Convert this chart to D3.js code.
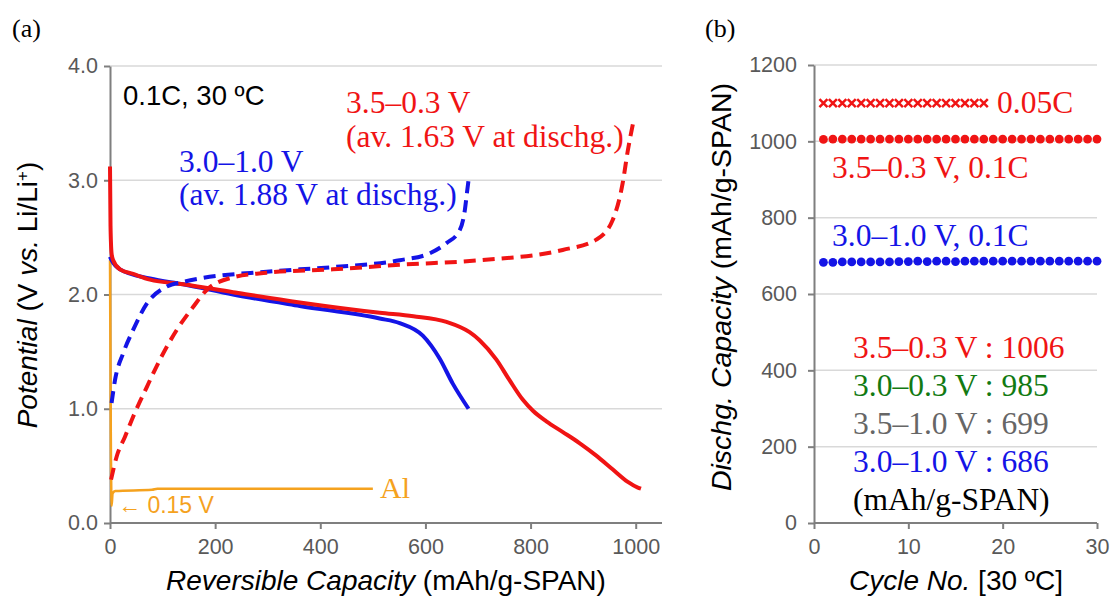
<!DOCTYPE html>
<html lang="en">
<head>
  <meta charset="UTF-8">
  <title>SPAN charge-discharge</title>
  <script src="https://d3js.org/d3.v7.min.js"></script>
  <style>
    body { margin: 0; background: #fff; }
    .serif { font-family: "Liberation Serif", "Times New Roman", serif; }
    .sans { font-family: "Liberation Sans", Arial, sans-serif; }
  </style>
</head>
<body>
  <div id="chart"></div>

  <script>
    // (a) capacity [mAh/g] vs potential [V]
    const redDis = [[0,3.12],[1,2.6],[3,2.36],[6,2.30],[19,2.22],[44,2.18],[76,2.13],[139,2.09],[234,2.02],[361,1.93],[513,1.84],[577,1.81],[640,1.76],[684,1.67],[703,1.60],[735,1.43],[760,1.25],[785,1.08],[805,0.98],[830,0.89],[860,0.80],[893,0.70],[925,0.59],[956,0.47],[985,0.36],[1004,0.31],[1010,0.30]];
    const redChg = [[2,0.38],[12.6,0.58],[28.5,0.755],[44,0.93],[70,1.19],[95,1.43],[127,1.69],[158,1.89],[184,2.04],[234,2.15],[298,2.19],[424,2.22],[551,2.26],[703,2.30],[861,2.39],[925,2.48],[956,2.65],[975,2.97],[985,3.26],[995,3.50]];
    const blueDis = [[0,2.33],[3,2.30],[19,2.22],[76,2.14],[139,2.09],[234,2.00],[361,1.90],[513,1.79],[551,1.75],[595,1.64],[627,1.44],[652,1.22],[682,1.00]];
    const blueChg = [[3,1.05],[9.5,1.25],[25,1.485],[44,1.69],[70,1.92],[108,2.07],[139,2.11],[171,2.14],[298,2.20],[424,2.24],[551,2.30],[608,2.36],[640,2.45],[665,2.56],[675,2.74],[679,2.89],[682,3.00]];
    const alCurve = [[0,2.3],[0.5,1.8],[1,1.37],[1.5,0.8],[2,0.5],[3,0.15],[5,0.26],[10,0.28],[80,0.29],[90,0.30],[500,0.30]];
    const xTicksA = [0, 200, 400, 600, 800, 1000];
    const yTicksA = [0, 1, 2, 3, 4];

    // (b) discharge capacity vs cycle
    const cycles = d3.range(1, 31);
    const cap35_03 = [1005,1006,1006,1006,1006,1006,1006,1006,1006,1006,1006,1006,1006,1006,1006,1006,1006,1006,1006,1006,1006,1006,1006,1006,1006,1006,1006,1006,1006,1006];
    const cap30_10 = [683,683,684,684,684,684,684,684,685,685,686,685,686,686,685,686,686,686,686,686,686,686,686,686,686,686,686,686,686,686];
    const cycles005 = d3.range(1, 19);
    const cap005 = [1100,1100,1100,1100,1100,1100,1100,1100,1100,1100,1100,1100,1100,1100,1100,1100,1100,1100];
    const xTicksB = [0, 10, 20, 30];
    const yTicksB = [0, 200, 400, 600, 800, 1000, 1200];

    const RED = "#f01414", BLUE = "#1414e6", ORANGE = "#f5a21e", GREEN = "#127a12", GREY = "#666666";

    const svg = d3.select("#chart").append("svg")
      .attr("width", 1113).attr("height", 601);

    function axes(x, y, xt, yt, fmtY, padY) {
      svg.append("g").selectAll("line").data(yt.filter(d => d > 0)).join("line")
        .attr("x1", x.range()[0]).attr("x2", x.range()[1])
        .attr("y1", d => y(d)).attr("y2", d => y(d))
        .attr("stroke", "#d9d9d9").attr("stroke-width", 1.5);
      const gx = svg.append("g").attr("transform", `translate(0,${y(0)})`)
        .call(d3.axisBottom(x).tickValues(xt).tickFormat(d3.format("d")).tickSize(6).tickPadding(10).tickSizeOuter(0));
      const gy = svg.append("g").attr("transform", `translate(${x(0)},0)`)
        .call(d3.axisLeft(y).tickValues(yt).tickFormat(fmtY).tickSize(6).tickPadding(padY).tickSizeOuter(0));
      [gx, gy].forEach(g => {
        g.select(".domain").attr("stroke", "#7f7f7f").attr("stroke-width", 2);
        g.selectAll(".tick line").attr("stroke", "#7f7f7f").attr("stroke-width", 2);
        g.selectAll(".tick text").attr("font-family", "'Liberation Sans', Arial, sans-serif")
          .attr("font-size", 21.5).attr("fill", "#595959");
      });
      gx.select(".domain").attr("d", `M${x.range()[0]},0H${x.range()[1]}`);
    }

    // ---------- panel (a) ----------
    const xa = d3.scaleLinear().domain([0, 1050]).range([110, 662]);
    const ya = d3.scaleLinear().domain([0, 4]).range([523, 66]);
    axes(xa, ya, xTicksA, yTicksA, d3.format(".1f"), 6);

    const line = d3.line().x(d => xa(d[0])).y(d => ya(d[1])).curve(d3.curveMonotoneX);
    svg.append("path").datum(alCurve).attr("d", line).attr("fill", "none")
      .attr("stroke", ORANGE).attr("stroke-width", 2.5);
    svg.append("path").datum(blueDis).attr("d", line).attr("fill", "none")
      .attr("stroke", BLUE).attr("stroke-width", 4);
    svg.append("path").datum(redDis).attr("d", line).attr("fill", "none")
      .attr("stroke", RED).attr("stroke-width", 4);
    svg.append("path").datum(blueChg).attr("d", line).attr("fill", "none")
      .attr("stroke", BLUE).attr("stroke-width", 4).attr("stroke-dasharray", "12,7");
    svg.append("path").datum(redChg).attr("d", line).attr("fill", "none")
      .attr("stroke", RED).attr("stroke-width", 4).attr("stroke-dasharray", "12,7");

    svg.append("text").attr("class", "serif").attr("x", 12).attr("y", 37)
      .attr("font-size", 26).text("(a)");
    svg.append("text").attr("class", "sans").attr("x", 123).attr("y", 105)
      .attr("font-size", 27.5).text("0.1C, 30 ºC");
    svg.append("text").attr("class", "serif").attr("x", 346).attr("y", 113)
      .attr("font-size", 31.5).attr("fill", RED).text("3.5–0.3 V");
    svg.append("text").attr("class", "serif").attr("x", 346).attr("y", 147)
      .attr("font-size", 31.5).attr("fill", RED).text("(av. 1.63 V at dischg.)");
    svg.append("text").attr("class", "serif").attr("x", 179).attr("y", 172)
      .attr("font-size", 31.5).attr("fill", BLUE).text("3.0–1.0 V");
    svg.append("text").attr("class", "serif").attr("x", 179).attr("y", 205)
      .attr("font-size", 31.5).attr("fill", BLUE).text("(av. 1.88 V at dischg.)");
    svg.append("text").attr("class", "serif").attr("x", 380).attr("y", 498)
      .attr("font-size", 30).attr("fill", ORANGE).text("Al");
    svg.append("text").attr("class", "sans").attr("x", 118).attr("y", 513)
      .attr("font-size", 23).attr("fill", ORANGE).text("← 0.15 V");

    const xtA = svg.append("text").attr("class", "sans").attr("x", 386).attr("y", 590)
      .attr("text-anchor", "middle").attr("font-size", 28);
    xtA.append("tspan").attr("font-style", "italic").text("Reversible Capacity");
    xtA.append("tspan").text(" (mAh/g-SPAN)");

    const ytA = svg.append("text").attr("class", "sans")
      .attr("transform", "translate(37,295) rotate(-90)")
      .attr("text-anchor", "middle").attr("font-size", 28);
    ytA.append("tspan").attr("font-style", "italic").text("Potential");
    ytA.append("tspan").text(" (V ");
    ytA.append("tspan").attr("font-style", "italic").text("vs.");
    ytA.append("tspan").text(" Li/Li");
    ytA.append("tspan").attr("baseline-shift", "super").attr("font-size", 17).text("+");
    ytA.append("tspan").text(")");

    // ---------- panel (b) ----------
    const xb = d3.scaleLinear().domain([0, 30]).range([814, 1097]);
    const yb = d3.scaleLinear().domain([0, 1200]).range([523, 65]);
    axes(xb, yb, xTicksB, yTicksB, d3.format("d"), 11);

    svg.append("g").selectAll("path").data(cycles005).join("path")
      .attr("transform", (d, i) => `translate(${xb(d)},${yb(cap005[i])})`)
      .attr("d", "M-4,-4L4,4M-4,4L4,-4")
      .attr("stroke", RED).attr("stroke-width", 2.5);
    svg.append("g").selectAll("circle").data(cycles).join("circle")
      .attr("cx", d => xb(d)).attr("cy", (d, i) => yb(cap35_03[i]))
      .attr("r", 4.4).attr("fill", RED);
    svg.append("g").selectAll("circle").data(cycles).join("circle")
      .attr("cx", d => xb(d)).attr("cy", (d, i) => yb(cap30_10[i]))
      .attr("r", 4.4).attr("fill", BLUE);

    svg.append("text").attr("class", "serif").attr("x", 705).attr("y", 37)
      .attr("font-size", 26).text("(b)");
    svg.append("text").attr("class", "serif").attr("x", 997).attr("y", 113)
      .attr("font-size", 31.5).attr("fill", RED).text("0.05C");
    svg.append("text").attr("class", "serif").attr("x", 832).attr("y", 178)
      .attr("font-size", 31.5).attr("fill", RED).text("3.5–0.3 V, 0.1C");
    svg.append("text").attr("class", "serif").attr("x", 832).attr("y", 246)
      .attr("font-size", 31.5).attr("fill", BLUE).text("3.0–1.0 V, 0.1C");

    const summary = [
      ["3.5–0.3 V : 1006", RED],
      ["3.0–0.3 V : 985", GREEN],
      ["3.5–1.0 V : 699", GREY],
      ["3.0–1.0 V : 686", BLUE],
      ["(mAh/g-SPAN)", "#000"]
    ];
    svg.append("g").selectAll("text").data(summary).join("text")
      .attr("class", "serif").attr("x", 853).attr("y", (d, i) => 358 + i * 38)
      .attr("font-size", 31.5).attr("fill", d => d[1]).text(d => d[0]);

    const xtB = svg.append("text").attr("class", "sans").attr("x", 956).attr("y", 590)
      .attr("text-anchor", "middle").attr("font-size", 28);
    xtB.append("tspan").attr("font-style", "italic").text("Cycle No.");
    xtB.append("tspan").text(" [30 ºC]");

    const ytB = svg.append("text").attr("class", "sans")
      .attr("transform", "translate(731,287) rotate(-90)")
      .attr("text-anchor", "middle").attr("font-size", 28.5);
    ytB.append("tspan").attr("font-style", "italic").text("Dischg. Capacity");
    ytB.append("tspan").text(" (mAh/g-SPAN)");
  </script>
</body>
</html>
